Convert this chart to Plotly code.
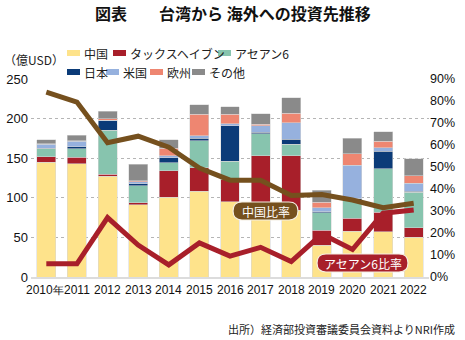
import plotly.graph_objects as go

years = ["2010", "2011", "2012", "2013", "2014", "2015", "2016", "2017", "2018", "2019", "2020", "2021", "2022"]
year_labels = ["2010年", "2011", "2012", "2013", "2014", "2015", "2016", "2017", "2018", "2019", "2020", "2021", "2022"]

series_names = ["中国", "タックスヘイブン", "アセアン6", "日本", "米国", "欧州", "その他"]
china = [145, 143, 127, 91, 101, 108, 95, 91, 84, 40, 58, 57, 50]
taxhaven = [7, 8, 2.5, 2.5, 33, 30, 28, 62, 69, 19, 16, 25, 12]
asean6 = [10, 11, 56, 21.5, 10, 34, 23, 28, 14.5, 22, 23, 55, 45]
japan = [0.5, 2.5, 12, 2.5, 6.5, 3.5, 45, 2, 6.5, 1.5, 2, 21.5, 1.3]
usa = [5, 7, 0.5, 2.5, 2.5, 3, 2.5, 8, 20.5, 5, 42, 4.7, 10]
europe = [1, 0.5, 2, 1.5, 9.5, 27, 12, 2, 12.5, 7, 14.5, 8, 9.3]
others = [5, 7, 9, 21, 11, 12, 9.5, 13, 19.5, 15, 20, 12.5, 21.5]

china_ratio = [0.84, 0.795, 0.61, 0.64, 0.59, 0.495, 0.44, 0.44, 0.37, 0.375, 0.35, 0.315, 0.335]
asean_ratio = [0.06, 0.06, 0.27, 0.145, 0.055, 0.155, 0.095, 0.135, 0.07, 0.195, 0.125, 0.29, 0.305]

colors = ["#FEE38B", "#A81F2A", "#87C4AE", "#0B3B78", "#96B1DE", "#EE8671", "#8A8A8A"]
brown = "#75501E"
red = "#A81F2A"

JP = "Noto Sans CJK JP, Noto Sans, sans-serif"
NUM = "Liberation Sans, Arial, sans-serif"

fig = go.Figure()
for name, vals, c in zip(series_names, [china, taxhaven, asean6, japan, usa, europe, others], colors):
    fig.add_bar(x=years, y=vals, name=name, marker=dict(color=c, line=dict(color="rgba(215,215,215,0.9)", width=0.6)),
                showlegend=False)

fig.add_scatter(x=years, y=china_ratio, yaxis="y2", mode="lines", line=dict(color=brown, width=5),
                showlegend=False, name="中国比率")
fig.add_scatter(x=years, y=asean_ratio, yaxis="y2", mode="lines", line=dict(color=red, width=5),
                showlegend=False, name="アセアン6比率")

W, H = 465, 340
L, R, T, B = 31, 429, 79, 277


def px(x):
    return (x - L) / (R - L)


def py(y):
    return (B - y) / (B - T)


shapes = []
annotations = []

# x-axis category labels (placed on the category axis by index)
for i, lab in enumerate(year_labels):
    txt = lab
    shift = 0
    if lab.endswith("年"):
        txt = lab[:-1] + "<span style='font-size:10.5px'>年</span>"
        shift = -1
    annotations.append(dict(text=txt, xref="x", yref="paper", x=i, y=py(289.5), xshift=shift,
                            xanchor="center", yanchor="middle", showarrow=False,
                            font=dict(family=NUM, size=12, color="#111")))

# manual legend
legend_pos = [(67, 53), (113, 53), (218, 53), (67, 72), (106, 72), (150, 72), (192, 72)]
for name, c, (lx, ly) in zip(series_names, colors, legend_pos):
    shapes.append(dict(type="rect", xref="paper", yref="paper", x0=px(lx), x1=px(lx + 13),
                       y0=py(ly + 3), y1=py(ly - 3), fillcolor=c, line=dict(width=0)))
    annotations.append(dict(text=name, xref="paper", yref="paper", x=px(lx + 14.5), y=py(ly),
                            xanchor="left", yanchor="middle", showarrow=False,
                            font=dict(family=JP, size=12, color="#222")))


def pill(x0, y0, x1, y1, fill):
    r = (y1 - y0) / 2
    pts = (f"M {px(x0 + r)},{py(y0)} L {px(x1 - r)},{py(y0)} "
           f"Q {px(x1)},{py(y0)} {px(x1)},{py(y0 + r)} "
           f"Q {px(x1)},{py(y1)} {px(x1 - r)},{py(y1)} "
           f"L {px(x0 + r)},{py(y1)} "
           f"Q {px(x0)},{py(y1)} {px(x0)},{py(y0 + r)} "
           f"Q {px(x0)},{py(y0)} {px(x0 + r)},{py(y0)} Z")
    return dict(type="path", xref="paper", yref="paper", path=pts, fillcolor=fill,
                line=dict(color="#F4EDE2", width=1.2), layer="above")


shapes.append(pill(233, 202, 298, 220, brown))
annotations.append(dict(text="中国比率", xref="paper", yref="paper", x=px(265.5), y=py(211),
                        xanchor="center", yanchor="middle", showarrow=False,
                        font=dict(family=JP, size=12, color="white")))
shapes.append(pill(317, 254, 408, 272, red))
annotations.append(dict(text="アセアン6比率", xref="paper", yref="paper", x=px(362.5), y=py(263),
                        xanchor="center", yanchor="middle", showarrow=False,
                        font=dict(family=JP, size=12, color="white")))

# title, unit, source
annotations.append(dict(text="<b>図表　　台湾から 海外への投資先推移</b>", xref="paper", yref="paper",
                        x=px(232.5), y=py(13), xanchor="center", yanchor="middle", showarrow=False,
                        font=dict(family=JP, size=16, color="#111")))
annotations.append(dict(text="（億USD）", xref="paper", yref="paper", x=px(2), y=py(60),
                        xanchor="left", yanchor="middle", showarrow=False,
                        font=dict(family=JP, size=12, color="#222")))
annotations.append(dict(text="出所）経済部投資審議委員会資料よりNRI作成", xref="paper", yref="paper",
                        x=px(457), y=py(329), xanchor="right", yanchor="middle", showarrow=False,
                        font=dict(family=JP, size=11, color="#222")))

fig.update_layout(
    width=W, height=H,
    margin=dict(l=L, r=W - R, t=T, b=H - B, autoexpand=False),
    template="none",
    paper_bgcolor="white", plot_bgcolor="white",
    barmode="stack", bargap=0.38,
    shapes=shapes, annotations=annotations,
    showlegend=False,
    xaxis=dict(type="category", range=[-0.5, len(years) - 0.5], showgrid=False, showticklabels=False,
               showline=True, linecolor="#DCDCDC", linewidth=2, ticks="", automargin=False),
    yaxis=dict(range=[0, 250], dtick=50, showgrid=True, gridcolor="#B5B5B5", griddash="dot",
               gridwidth=1, zeroline=False, ticks="", showline=False, ticklabelstandoff=2,
               tickfont=dict(family=NUM, size=13, color="#111"), automargin=False),
    yaxis2=dict(range=[0, 0.9], dtick=0.1, tickformat=".0%", overlaying="y", side="right",
                showgrid=False, zeroline=False, ticks="", showline=False,
                tickfont=dict(family=NUM, size=12.5, color="#111"), automargin=False),
)

fig.write_html("out.html")
